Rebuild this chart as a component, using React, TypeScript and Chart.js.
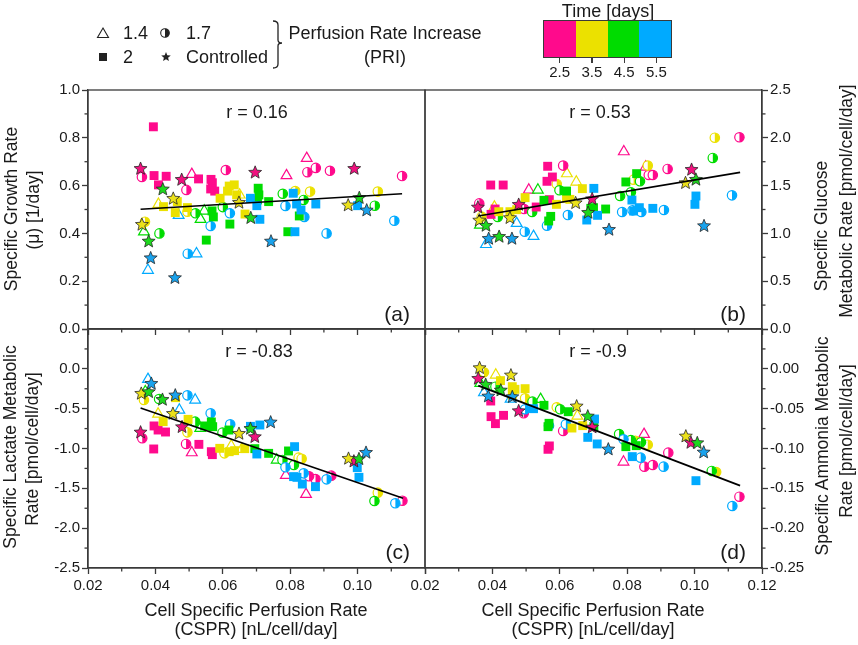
import { useEffect, useRef } from "react";
import { Chart, registerables } from "chart.js";

Chart.register(...registerables);

const FONT = '"Liberation Sans", Arial, sans-serif';
const AXIS = "#3a3a3a";
const INK = "#1a1a1a";

const days = ["2.5", "3.5", "4.5", "5.5"];
const dayColors = ["#ff0a8c", "#ebe100", "#00dc00", "#00aaff"];
const starColors = ["#f0127f", "#ebe11a", "#1ed81e", "#1aa2ec"];
const priLabels = ["1.4", "1.7", "2", "Controlled"];

// [CSPR, rate, day index]
type Pt = [number, number, number];

// (a) specific growth rate
const aTri: Pt[] = [
  [0.0508, 0.647, 0], [0.0789, 0.642, 0], [0.0849, 0.714, 0],
  [0.0409, 0.522, 1], [0.065, 0.561, 1],
  [0.0366, 0.407, 2], [0.0545, 0.494, 2], [0.0534, 0.459, 2],
  [0.0469, 0.476, 3], [0.0522, 0.315, 3], [0.0378, 0.246, 3],
];
const aHalf: Pt[] = [
  [0.036, 0.636, 0], [0.0609, 0.665, 0], [0.0492, 0.582, 0], [0.0851, 0.656, 0], [0.0876, 0.674, 0], [0.0918, 0.662, 0], [0.1132, 0.64, 0],
  [0.0369, 0.449, 1], [0.0495, 0.491, 1], [0.0815, 0.577, 1], [0.0859, 0.575, 1], [0.106, 0.575, 1],
  [0.0412, 0.4, 2], [0.0519, 0.484, 2], [0.06, 0.51, 2], [0.0778, 0.566, 2], [0.084, 0.54, 2], [0.1051, 0.516, 2],
  [0.0621, 0.484, 3], [0.0564, 0.431, 3], [0.0496, 0.315, 3], [0.0786, 0.515, 3], [0.0842, 0.469, 3], [0.0908, 0.4, 3], [0.1109, 0.453, 3],
];
const aSq: Pt[] = [
  [0.0394, 0.846, 0], [0.0396, 0.642, 0], [0.0432, 0.639, 0], [0.0409, 0.603, 0], [0.0528, 0.628, 0], [0.0565, 0.626, 0], [0.0569, 0.612, 0], [0.0564, 0.586, 0], [0.0576, 0.577, 0],
  [0.0424, 0.512, 1], [0.0459, 0.487, 1], [0.0495, 0.508, 1], [0.0619, 0.598, 1], [0.0634, 0.603, 1], [0.0614, 0.577, 1], [0.0641, 0.561, 1], [0.0592, 0.547, 1], [0.0666, 0.481, 1], [0.0465, 0.533, 1],
  [0.0705, 0.589, 2], [0.0707, 0.561, 2], [0.0736, 0.533, 2], [0.0568, 0.494, 2], [0.0572, 0.469, 2], [0.0621, 0.439, 2], [0.0551, 0.372, 2], [0.0793, 0.407, 2], [0.0827, 0.473, 2], [0.0703, 0.54, 2],
  [0.0682, 0.547, 3], [0.0701, 0.516, 3], [0.071, 0.459, 3], [0.0809, 0.568, 3], [0.0819, 0.523, 3], [0.0832, 0.498, 3], [0.0876, 0.523, 3], [0.0814, 0.407, 3], [0.1, 0.516, 3],
];
const aStar: Pt[] = [
  [0.0356, 0.672, 0], [0.0478, 0.626, 0], [0.0696, 0.656, 0], [0.099, 0.672, 0],
  [0.036, 0.438, 1], [0.0453, 0.547, 1], [0.0648, 0.53, 1], [0.0972, 0.519, 1],
  [0.0422, 0.586, 2], [0.038, 0.368, 2], [0.0683, 0.466, 2], [0.1005, 0.55, 2],
  [0.0386, 0.298, 3], [0.0458, 0.215, 3], [0.0743, 0.368, 3], [0.1027, 0.498, 3],
];
const aFitX = [0.0356, 0.1132];
const aFitY = [0.501, 0.566];

// (b) specific glucose metabolic rate
const bTri: Pt[] = [
  [0.0508, 1.454, 0], [0.079, 1.855, 0], [0.0855, 1.695, 0],
  [0.0621, 1.625, 1], [0.0649, 1.538, 1], [0.0406, 1.276, 1],
  [0.0535, 1.454, 2], [0.0363, 1.088, 2],
  [0.0472, 1.105, 3], [0.0522, 0.969, 3], [0.0381, 0.885, 3],
];
const bHalf: Pt[] = [
  [0.061, 1.709, 0], [0.0361, 1.314, 0], [0.0494, 1.255, 0], [0.0864, 1.611, 0], [0.0876, 1.611, 0], [0.092, 1.674, 0], [0.1133, 2.005, 0],
  [0.0591, 1.517, 1], [0.0368, 1.175, 1], [0.0861, 1.709, 1], [0.106, 2.001, 1], [0.0819, 1.562, 1],
  [0.0599, 1.451, 2], [0.0811, 1.43, 2], [0.0779, 1.391, 2], [0.0838, 1.545, 2], [0.1054, 1.789, 2], [0.0518, 1.224, 2], [0.0416, 1.172, 2],
  [0.0624, 1.192, 3], [0.0562, 1.081, 3], [0.0785, 1.224, 3], [0.0816, 1.241, 3], [0.0842, 1.224, 3], [0.0909, 1.245, 3], [0.1111, 1.398, 3], [0.0496, 1.018, 3],
];
const bSq: Pt[] = [
  [0.0395, 1.506, 0], [0.0432, 1.506, 0], [0.0564, 1.702, 0], [0.0578, 1.59, 0], [0.0562, 1.545, 0], [0.0569, 1.353, 0], [0.053, 1.276, 0], [0.0396, 1.199, 0], [0.0408, 1.255, 0],
  [0.0497, 1.374, 1], [0.0667, 1.468, 1], [0.059, 1.304, 1], [0.063, 1.356, 1], [0.0419, 1.227, 1], [0.0472, 1.248, 1], [0.0452, 1.227, 1], [0.062, 1.367, 1],
  [0.0796, 1.538, 2], [0.0828, 1.625, 2], [0.062, 1.443, 2], [0.0553, 1.346, 2], [0.0573, 1.178, 2], [0.0567, 1.13, 2], [0.07, 1.269, 2], [0.0736, 1.255, 2], [0.0692, 1.262, 2],
  [0.0701, 1.471, 3], [0.0814, 1.349, 3], [0.0836, 1.269, 3], [0.0876, 1.262, 3], [0.0712, 1.189, 3], [0.068, 1.14, 3], [0.0819, 1.234, 3], [0.1004, 1.391, 3], [0.1001, 1.304, 3],
];
const bStar: Pt[] = [
  [0.0357, 1.276, 0], [0.0478, 1.304, 0], [0.0696, 1.363, 0], [0.0991, 1.67, 0],
  [0.0361, 1.14, 1], [0.0452, 1.165, 1], [0.0647, 1.321, 1], [0.0973, 1.531, 1],
  [0.0381, 1.084, 2], [0.042, 0.969, 2], [0.0684, 1.22, 2], [0.1004, 1.566, 2],
  [0.0389, 0.948, 3], [0.0458, 0.948, 3], [0.0746, 1.042, 3], [0.1028, 1.081, 3],
];
const bFitX = [0.0358, 0.1135];
const bFitY = [1.182, 1.639];

// (c) specific lactate metabolic rate
const cTri: Pt[] = [
  [0.0508, -1.052, 0], [0.0787, -1.337, 0], [0.0847, -1.575, 0],
  [0.0408, -0.567, 1], [0.0625, -0.968, 1], [0.0656, -1.01, 1],
  [0.037, -0.287, 2], [0.0533, -0.747, 2], [0.076, -1.144, 2],
  [0.0378, -0.132, 3], [0.0518, -0.391, 3], [0.0471, -0.517, 3],
];
const cHalf: Pt[] = [
  [0.0361, -0.872, 0], [0.0491, -0.943, 0], [0.0875, -1.383, 0], [0.0922, -1.341, 0], [0.1133, -1.655, 0], [0.0856, -1.349, 0],
  [0.0366, -0.391, 1], [0.0495, -0.797, 1], [0.0605, -1.061, 1], [0.0825, -1.115, 1], [0.0834, -1.128, 1], [0.106, -1.554, 1],
  [0.0411, -0.379, 2], [0.0518, -0.663, 2], [0.0599, -0.801, 2], [0.0777, -1.144, 2], [0.0811, -1.207, 2], [0.105, -1.659, 2],
  [0.0495, -0.333, 3], [0.0564, -0.559, 3], [0.0622, -0.697, 3], [0.0786, -1.236, 3], [0.084, -1.312, 3], [0.0908, -1.387, 3], [0.1112, -1.688, 3],
];
const cSq: Pt[] = [
  [0.0396, -0.717, 0], [0.0408, -0.768, 0], [0.043, -0.793, 0], [0.0395, -1.006, 0], [0.0529, -0.948, 0], [0.0566, -1.04, 0], [0.0569, -1.077, 0],
  [0.0423, -0.663, 1], [0.0497, -0.634, 1], [0.0591, -0.998, 1], [0.0619, -1.04, 1], [0.0635, -1.027, 1], [0.0665, -1.002, 1], [0.046, -0.362, 1],
  [0.0546, -0.717, 2], [0.0566, -0.667, 2], [0.057, -0.726, 2], [0.0618, -0.768, 2], [0.0736, -1.061, 2], [0.0795, -1.031, 2], [0.0695, -1.002, 2],
  [0.071, -0.705, 3], [0.0682, -0.722, 3], [0.0701, -1.069, 3], [0.0813, -0.977, 3], [0.0999, -1.24, 3], [0.1004, -1.362, 3], [0.081, -1.353, 3], [0.0836, -1.446, 3], [0.0875, -1.479, 3], [0.082, -1.362, 3],
];
const cStar: Pt[] = [
  [0.0356, -0.793, 0], [0.0479, -0.726, 0], [0.0695, -0.851, 0], [0.0989, -1.157, 0],
  [0.0358, -0.307, 1], [0.0452, -0.559, 1], [0.0648, -0.81, 1], [0.0973, -1.123, 1],
  [0.038, -0.287, 2], [0.0421, -0.383, 2], [0.0682, -0.747, 2], [0.1004, -1.128, 2],
  [0.0388, -0.182, 3], [0.0459, -0.328, 3], [0.0742, -0.667, 3], [0.1025, -1.048, 3],
];
const cFitX = [0.0356, 0.1135];
const cFitY = [-0.492, -1.625];

// (d) specific ammonia metabolic rate
const dTri: Pt[] = [
  [0.0789, -0.1169, 0], [0.085, -0.0822, 0],
  [0.041, -0.0077, 1], [0.0652, -0.0592, 1],
  [0.0364, -0.0182, 2], [0.0543, -0.0383, 2],
  [0.0375, -0.0299, 3], [0.0454, -0.0379, 3], [0.0509, -0.05, 3],
];
const dHalf: Pt[] = [
  [0.0493, -0.0558, 0], [0.061, -0.078, 0], [0.0851, -0.1228, 0], [0.0876, -0.1207, 0], [0.0922, -0.1052, 0], [0.1133, -0.1605, 0],
  [0.0375, -0.0044, 1], [0.0497, -0.037, 1], [0.0591, -0.0483, 1], [0.0824, -0.0902, 1], [0.0861, -0.0952, 1], [0.1064, -0.1295, 1],
  [0.0409, -0.0224, 2], [0.0519, -0.0412, 2], [0.0601, -0.0508, 2], [0.0776, -0.0818, 2], [0.0811, -0.0893, 2], [0.0841, -0.0923, 2], [0.1051, -0.1282, 2],
  [0.0497, -0.0508, 3], [0.0568, -0.0713, 3], [0.0618, -0.0697, 3], [0.0789, -0.0885, 3], [0.084, -0.1115, 3], [0.0908, -0.1228, 3], [0.1112, -0.1722, 3],
];
const dSq: Pt[] = [
  [0.0395, -0.0404, 0], [0.0396, -0.06, 0], [0.0409, -0.0688, 0], [0.0433, -0.0584, 0], [0.0569, -0.0968, 0], [0.0565, -0.101, 0],
  [0.0424, -0.0148, 1], [0.0459, -0.0224, 1], [0.0467, -0.0257, 1], [0.0497, -0.0249, 1], [0.0636, -0.0743, 1], [0.0668, -0.0713, 1], [0.0459, -0.0328, 1],
  [0.0553, -0.0458, 2], [0.0568, -0.0684, 2], [0.0565, -0.0726, 2], [0.0625, -0.0538, 2], [0.0796, -0.0977, 2], [0.0827, -0.0964, 2], [0.0701, -0.0726, 2],
  [0.0703, -0.063, 3], [0.0683, -0.086, 3], [0.0711, -0.0943, 3], [0.0815, -0.1102, 3], [0.1004, -0.1404, 3], [0.0522, -0.05, 3],
];
const dStar: Pt[] = [
  [0.0358, -0.0119, 0], [0.0478, -0.0525, 0], [0.0696, -0.073, 0], [0.0989, -0.0923, 0],
  [0.0362, 0.0015, 1], [0.0455, -0.0077, 1], [0.065, -0.0466, 1], [0.0974, -0.0843, 1],
  [0.038, -0.0195, 2], [0.0425, -0.0266, 2], [0.0683, -0.0592, 2], [0.1008, -0.0927, 2],
  [0.0388, -0.0341, 3], [0.0459, -0.0349, 3], [0.0744, -0.1006, 3], [0.1027, -0.1044, 3],
];
const dFitX = [0.0358, 0.1135];
const dFitY = [-0.0211, -0.1466];

const rLabels = ["r = 0.16", "r = 0.53", "r = -0.83", "r = -0.9"];

type Panel = {
  tri: Pt[]; half: Pt[]; sq: Pt[]; star: Pt[];
  fitX: number[]; fitY: number[];
  yMin: number; yMax: number; yStep: number; yMinor: number; digits: number;
  right: boolean; xLabels: boolean; hideLastX: boolean; hideTopY: boolean;
  pad: { left: number; right: number; top: number; bottom: number };
};

const panels: Panel[] = [
  { tri: aTri, half: aHalf, sq: aSq, star: aStar, fitX: aFitX, fitY: aFitY,
    yMin: 0, yMax: 1, yStep: 0.2, yMinor: 0.1, digits: 1, right: false, xLabels: false, hideLastX: false, hideTopY: false,
    pad: { left: 28, right: 433, top: 90, bottom: 286 } },
  { tri: bTri, half: bHalf, sq: bSq, star: bStar, fitX: bFitX, fitY: bFitY,
    yMin: 0, yMax: 2.5, yStep: 0.5, yMinor: 0.25, digits: 1, right: true, xLabels: false, hideLastX: false, hideTopY: false,
    pad: { left: 425, right: 36, top: 90, bottom: 286 } },
  { tri: cTri, half: cHalf, sq: cSq, star: cStar, fitX: cFitX, fitY: cFitY,
    yMin: -2.5, yMax: 0.5, yStep: 0.5, yMinor: 0.25, digits: 1, right: false, xLabels: true, hideLastX: true, hideTopY: true,
    pad: { left: 28, right: 433, top: 329, bottom: 47 } },
  { tri: dTri, half: dHalf, sq: dSq, star: dStar, fitX: dFitX, fitY: dFitY,
    yMin: -0.25, yMax: 0.05, yStep: 0.05, yMinor: 0.025, digits: 2, right: true, xLabels: true, hideLastX: false, hideTopY: true,
    pad: { left: 425, right: 36, top: 329, bottom: 47 } },
];

function starPath(cx: number, cy: number, ro: number, ri: number) {
  const pts: [number, number][] = [];
  for (let i = 0; i < 10; i++) {
    const r = i % 2 === 0 ? ro : ri;
    const a = -Math.PI / 2 + (i * Math.PI) / 5;
    pts.push([cx + r * Math.cos(a), cy + r * Math.sin(a)]);
  }
  return pts;
}

function fmt(v: number, d: number) {
  return (Math.abs(v) < 1e-9 ? 0 : v).toFixed(d);
}

// draws the star and half-filled circle markers at the points the scatter controller placed
const shapePlugin = {
  id: "shapes",
  afterDatasetDraw(chart: any, args: any) {
    const ds = chart.data.datasets[args.index];
    if (!ds.shape) return;
    const ctx = chart.ctx as CanvasRenderingContext2D;
    ctx.save();
    args.meta.data.forEach((el: any, j: number) => {
      const d = ds.data[j].d;
      const { x, y } = el;
      if (ds.shape === "star") {
        ctx.beginPath();
        starPath(x, y + 0.4, 6.8, 3.0).forEach(([px, py], i) => (i ? ctx.lineTo(px, py) : ctx.moveTo(px, py)));
        ctx.closePath();
        ctx.fillStyle = starColors[d];
        ctx.fill();
        ctx.strokeStyle = "#262626";
        ctx.lineWidth = 0.8;
        ctx.stroke();
      } else {
        const r = 4.7;
        ctx.beginPath();
        ctx.arc(x, y, r, 0, Math.PI * 2);
        ctx.fillStyle = "#fff";
        ctx.fill();
        ctx.beginPath();
        ctx.arc(x, y, r, -Math.PI / 2, Math.PI / 2);
        ctx.closePath();
        ctx.fillStyle = dayColors[d];
        ctx.fill();
        ctx.beginPath();
        ctx.arc(x, y, r, 0, Math.PI * 2);
        ctx.strokeStyle = dayColors[d];
        ctx.lineWidth = 1.2;
        ctx.stroke();
      }
    });
    ctx.restore();
  },
};

const framePlugin = {
  id: "frame",
  afterDraw(chart: any, _args: any, opts: any) {
    const { ctx, chartArea: a, scales } = chart;
    ctx.save();
    ctx.strokeStyle = AXIS;
    ctx.lineWidth = 1.3;
    ctx.strokeRect(a.left, a.top, a.right - a.left, a.bottom - a.top);
    const xs = scales.x;
    for (let v = xs.min + 0.01; v < xs.max; v += 0.02) {
      const p = xs.getPixelForValue(v);
      ctx.beginPath();
      ctx.moveTo(p, a.bottom);
      ctx.lineTo(p, a.bottom + 3.5);
      ctx.stroke();
    }
    const ys = scales.y;
    for (let v = ys.min + opts.yMinor; v < ys.max - 1e-9; v += 2 * opts.yMinor) {
      const p = ys.getPixelForValue(v);
      ctx.beginPath();
      if (opts.right) {
        ctx.moveTo(a.right, p);
        ctx.lineTo(a.right + 3.5, p);
      } else {
        ctx.moveTo(a.left, p);
        ctx.lineTo(a.left - 3.5, p);
      }
      ctx.stroke();
    }
    ctx.restore();
  },
};

function PanelChart({ p }: { p: Panel }) {
  const ref = useRef<HTMLCanvasElement>(null);
  useEffect(() => {
    if (!ref.current) return;
    const toPts = (arr: Pt[]) => arr.map(([x, y, d]) => ({ x, y, d }));
    const chart = new Chart(ref.current, {
      type: "scatter",
      data: {
        datasets: [
          {
            data: p.fitX.map((x, i) => ({ x, y: p.fitY[i] })),
            showLine: true, borderColor: "#000", borderWidth: 1.7, pointRadius: 0, order: 0,
          },
          { data: toPts(p.star), order: 1, pointRadius: 0, shape: "star" },
          {
            data: toPts(p.sq), order: 2, pointStyle: "rect", pointRadius: 6.3, pointBorderWidth: 0,
            pointBackgroundColor: (c: any) => dayColors[c.raw.d],
          },
          { data: toPts(p.half), order: 3, pointRadius: 0, shape: "half" },
          {
            data: toPts(p.tri), order: 4, pointStyle: "triangle", pointRadius: 6.2, pointBorderWidth: 1.2,
            pointBackgroundColor: "#fff",
            pointBorderColor: (c: any) => dayColors[c.raw.d],
          },
        ] as any,
      },
      options: {
        animation: false,
        responsive: false,
        events: [],
        layout: { padding: p.pad },
        plugins: {
          legend: { display: false },
          tooltip: { enabled: false },
          frame: { yMinor: p.yMinor, right: p.right },
        } as any,
        scales: {
          x: {
            type: "linear", position: "bottom", min: 0.02, max: 0.12,
            ticks: {
              stepSize: 0.02, autoSkip: false, maxRotation: 0, padding: 3, color: INK,
              font: { family: FONT, size: 15 },
              callback: (v: any) => {
                const n = Number(v);
                if (!p.xLabels) return "";
                if (p.hideLastX && n > 0.119) return "";
                return fmt(n, 2);
              },
            },
            grid: { drawOnChartArea: false, tickLength: 6, tickColor: AXIS, tickWidth: 1.3 },
            border: { color: AXIS, width: 1.3 },
            afterFit: (s: any) => { s.height = 30; },
          },
          y: {
            type: "linear", position: p.right ? "right" : "left", min: p.yMin, max: p.yMax,
            ticks: {
              stepSize: p.yStep, autoSkip: false, padding: 2, color: INK,
              font: { family: FONT, size: 15 },
              callback: (v: any) => {
                const n = Number(v);
                if (p.hideTopY && n > p.yMax - p.yStep / 10) return "";
                return fmt(n, p.digits);
              },
            },
            grid: { drawOnChartArea: false, tickLength: 6, tickColor: AXIS, tickWidth: 1.3 },
            border: { color: AXIS, width: 1.3 },
            afterFit: (s: any) => { s.width = 60; },
          },
        } as any,
      },
      plugins: [shapePlugin as any, framePlugin as any],
    });
    return () => chart.destroy();
  }, [p]);
  return (
    <canvas ref={ref} width={858} height={645}
      style={{ position: "absolute", left: 0, top: 0, width: 858, height: 645 }} />
  );
}

function Txt(props: { x: number; y: number; size: number; children: any; anchor?: "c" | "r" | "l" }) {
  const { x, y, size, anchor = "c" } = props;
  const tx = anchor === "c" ? "-50%" : anchor === "r" ? "-100%" : "0";
  return (
    <div style={{
      position: "absolute", left: x, top: y, fontSize: size, lineHeight: 1, whiteSpace: "nowrap", color: INK,
      transform: `translate(${tx}, -50%)`,
    }}>{props.children}</div>
  );
}

function RotTxt(props: { x: number; y: number; size: number; children: any }) {
  return (
    <div style={{
      position: "absolute", left: props.x, top: props.y, fontSize: props.size, lineHeight: 1, whiteSpace: "nowrap", color: INK,
      transform: "translate(-50%, -50%) rotate(-90deg)",
    }}>{props.children}</div>
  );
}

function Legend() {
  const star = starPath(166, 57, 5, 2.2).map((q) => q.join(",")).join(" ");
  return (
    <>
      <svg width={858} height={100} style={{ position: "absolute", left: 0, top: 0 }}>
        <polygon points="103,28 108.5,37.5 97.5,37.5" fill="none" stroke="#222" strokeWidth={1.1} />
        <circle cx={165} cy={33} r={4.3} fill="#fff" stroke="#222" strokeWidth={1.1} />
        <path d="M165,28.7 A4.3,4.3 0 0 1 165,37.3 Z" fill="#222" />
        <rect x={99} y={53} width={8} height={8} fill="#222" />
        <polygon points={star} fill="#222" />
        <path d="M273,21 Q278,21 278,25 L278,40 Q278,43 282,43 Q278,43 278,46 L278,64 Q278,68 273,68"
          fill="none" stroke="#222" strokeWidth={1.3} />
      </svg>
      <Txt x={123} y={33} size={18} anchor="l">{priLabels[0]}</Txt>
      <Txt x={186} y={33} size={18} anchor="l">{priLabels[1]}</Txt>
      <Txt x={123} y={57} size={18} anchor="l">{priLabels[2]}</Txt>
      <Txt x={186} y={57} size={18} anchor="l">{priLabels[3]}</Txt>
      <Txt x={385} y={33} size={18}>Perfusion Rate Increase</Txt>
      <Txt x={385} y={57} size={18}>(PRI)</Txt>
      <Txt x={608} y={11} size={18}>Time [days]</Txt>
      <div style={{ position: "absolute", left: 543, top: 20, width: 129, height: 38, display: "flex", border: `1px solid ${AXIS}`, boxSizing: "border-box" }}>
        {dayColors.map((c) => <div key={c} style={{ flex: 1, background: c }} />)}
      </div>
      {days.map((d, i) => (
        <div key={d}>
          <div style={{ position: "absolute", left: 543 + 16.1 + i * 32.25, top: 58, width: 1.2, height: 5, background: AXIS }} />
          <Txt x={543 + 16.6 + i * 32.25} y={71} size={15}>{d}</Txt>
        </div>
      ))}
    </>
  );
}

export default function App() {
  return (
    <div style={{ position: "absolute", left: 0, top: 0, width: 858, height: 645, background: "#fff", fontFamily: FONT, overflow: "hidden" }}>
      {panels.map((p, i) => <PanelChart key={i} p={p} />)}
      <Legend />
      <Txt x={257} y={112} size={18}>{rLabels[0]}</Txt>
      <Txt x={600} y={112} size={18}>{rLabels[1]}</Txt>
      <Txt x={259} y={351} size={18}>{rLabels[2]}</Txt>
      <Txt x={598} y={351} size={18}>{rLabels[3]}</Txt>
      <Txt x={410} y={313} size={21} anchor="r">(a)</Txt>
      <Txt x={746} y={313} size={21} anchor="r">(b)</Txt>
      <Txt x={410} y={551} size={21} anchor="r">(c)</Txt>
      <Txt x={746} y={551} size={21} anchor="r">(d)</Txt>
      <RotTxt x={12} y={209} size={17.5}>Specific Growth Rate</RotTxt>
      <RotTxt x={34} y={210} size={17.5}>(μ) [1/day]</RotTxt>
      <RotTxt x={11} y={447} size={17.5}>Specific Lactate Metabolic</RotTxt>
      <RotTxt x={33} y={449} size={17.5}>Rate [pmol/cell/day]</RotTxt>
      <RotTxt x={822} y={226} size={17.5}>Specific Glucose</RotTxt>
      <RotTxt x={847} y={201} size={17.5}>Metabolic Rate [pmol/cell/day]</RotTxt>
      <RotTxt x={823} y={446} size={17.5}>Specific Ammonia Metabolic</RotTxt>
      <RotTxt x={847} y={441} size={17.5}>Rate [pmol/cell/day]</RotTxt>
      <Txt x={256} y={610} size={18}>Cell Specific Perfusion Rate</Txt>
      <Txt x={256} y={629} size={18}>(CSPR) [nL/cell/day]</Txt>
      <Txt x={593} y={610} size={18}>Cell Specific Perfusion Rate</Txt>
      <Txt x={593} y={629} size={18}>(CSPR) [nL/cell/day]</Txt>
    </div>
  );
}
